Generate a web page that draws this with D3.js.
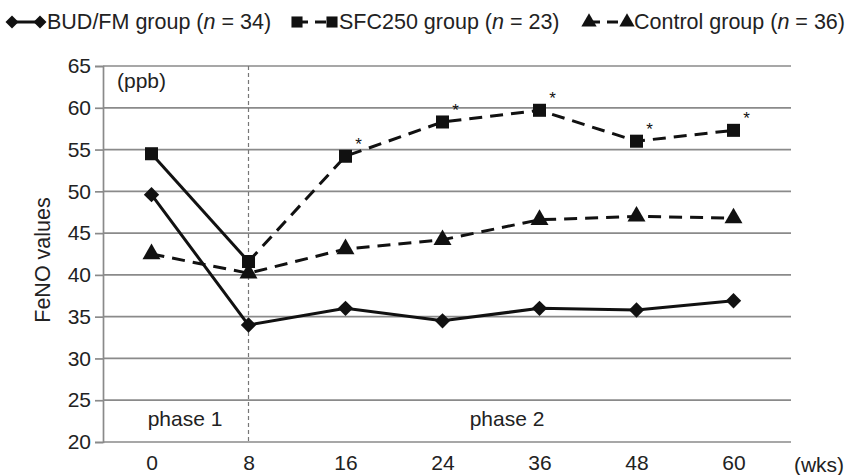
<!DOCTYPE html>
<html><head><meta charset="utf-8">
<script src="https://cdn.jsdelivr.net/npm/d3@7"></script>
<style>body{margin:0;background:#fff}svg{font-family:"Liberation Sans",Arial,sans-serif}</style>
</head><body><svg id="c" width="847" height="475"></svg>
<script>
const weeks = ["0","8","16","24","36","48","60"];
const budfm = [49.6, 34.0, 36.0, 34.5, 36.0, 35.8, 36.9];
const sfc250 = [54.5, 41.6, 54.2, 58.3, 59.7, 56.0, 57.3];
const control = [42.5, 40.2, 43.1, 44.2, 46.6, 47.0, 46.8];
const sfcSignificant = [false, false, true, true, true, true, true];
const yTicks = [20,25,30,35,40,45,50,55,60,65];

const svg = d3.select("#c");
const L = 103, R = 791, T = 66, B = 442;
const FS = 21;
const x = d3.scalePoint().domain(weeks).range([L, L + 7*97]).padding(0.5);
const y = d3.scaleLinear().domain([20,65]).range([B, T]);
const grid = "#8a8a8a";

svg.append("g").selectAll("line").data(yTicks).join("line")
  .attr("x1", L).attr("x2", R).attr("y1", d=>y(d)).attr("y2", d=>y(d))
  .attr("stroke", grid).attr("stroke-width", 1.7);
const ya = svg.append("g").attr("transform", `translate(${L},0)`)
  .call(d3.axisLeft(y).tickValues(yTicks).tickSize(8).tickPadding(4));
ya.select(".domain").attr("stroke", grid).attr("stroke-width", 1.7);
ya.selectAll(".tick line").attr("stroke", grid).attr("stroke-width", 1.7);
ya.selectAll("text").attr("font-size", FS).attr("fill", "#222").attr("font-family", "Liberation Sans, Arial, sans-serif");
const xa = svg.append("g").attr("transform", `translate(0,${B})`)
  .call(d3.axisBottom(x).tickSize(0).tickPadding(13));
xa.select(".domain").remove();
xa.selectAll("text").attr("font-size", FS).attr("fill", "#222").attr("font-family", "Liberation Sans, Arial, sans-serif");
svg.append("text").attr("x", 819).attr("y", B + 30).attr("text-anchor", "middle")
  .attr("font-size", FS).attr("fill", "#222").text("(wks)");

svg.append("line").attr("x1", x("8")).attr("x2", x("8")).attr("y1", T).attr("y2", B)
  .attr("stroke", "#777").attr("stroke-width", 1.2).attr("stroke-dasharray", "4,3");

svg.append("text").attr("transform", "translate(50,260) rotate(-90)").attr("text-anchor", "middle")
  .attr("font-size", 21.5).attr("fill", "#222").text("FeNO values");
svg.append("text").attr("x", 117).attr("y", 88).attr("font-size", FS).attr("fill", "#222").text("(ppb)");
svg.append("text").attr("x", 185).attr("y", 426).attr("text-anchor", "middle")
  .attr("font-size", FS).attr("fill", "#222").text("phase 1");
svg.append("text").attr("x", 507).attr("y", 426).attr("text-anchor", "middle")
  .attr("font-size", FS).attr("fill", "#222").text("phase 2");

const line = d3.line().x((d,i)=>x(weeks[i])).y(d=>y(d));
const seg = (vals, a, b) => vals.map((v,i)=>(i>=a && i<=b) ? v : null);
const lineD = d3.line().defined(d=>d!=null).x((d,i)=>x(weeks[i])).y(d=>y(d));
const dash = "13,8";
const SW = 3;
svg.append("path").attr("d", line(budfm)).attr("fill","none").attr("stroke","#111").attr("stroke-width",SW);
svg.append("path").attr("d", lineD(seg(sfc250,0,1))).attr("fill","none").attr("stroke","#111").attr("stroke-width",SW);
svg.append("path").attr("d", lineD(seg(sfc250,1,6))).attr("fill","none").attr("stroke","#111").attr("stroke-width",SW).attr("stroke-dasharray",dash);
svg.append("path").attr("d", line(control)).attr("fill","none").attr("stroke","#111").attr("stroke-width",SW).attr("stroke-dasharray",dash);

const diamond = d3.symbol().type(d3.symbolDiamond2).size(150)();
const square = d3.symbol().type(d3.symbolSquare).size(170)();
const tri = d3.symbol().type(d3.symbolTriangle).size(140)();

svg.append("g").selectAll("path").data(budfm).join("path")
  .attr("transform",(d,i)=>`translate(${x(weeks[i])},${y(d)})`).attr("d",diamond).attr("fill","#111");
svg.append("g").selectAll("path").data(sfc250).join("path")
  .attr("transform",(d,i)=>`translate(${x(weeks[i])},${y(d)})`).attr("d",square).attr("fill","#111");
svg.append("g").selectAll("path").data(control).join("path")
  .attr("transform",(d,i)=>`translate(${x(weeks[i])},${y(d)})`).attr("d",tri).attr("fill","#111");
svg.append("g").selectAll("text").data(sfc250.map((v,i)=>({v,i})).filter(d=>sfcSignificant[d.i])).join("text")
  .attr("x", d=>x(weeks[d.i])+13).attr("y", d=>y(d.v)-6).attr("text-anchor","middle")
  .attr("font-size", 17).attr("fill","#111").text("*");

const legend = [
  {label:"BUD/FM group", n:"34", sym:diamond, dashed:false, x0:12, w:28},
  {label:"SFC250 group", n:"23", sym:square, dashed:true, x0:297, w:35},
  {label:"Control group", n:"36", sym:tri, dashed:true, x0:589, w:38}
];
const lg = svg.append("g");
legend.forEach(d=>{
  const g = lg.append("g").attr("transform",`translate(${d.x0},22)`);
  g.append("line").attr("x1",0).attr("x2",d.w).attr("y1",0).attr("y2",0).attr("stroke","#111").attr("stroke-width",SW)
    .attr("stroke-dasharray", d.dashed ? "11,7" : null);
  g.append("path").attr("d", d.sym).attr("transform","translate(0,0) scale(0.85)").attr("fill","#111");
  g.append("path").attr("d", d.sym).attr("transform",`translate(${d.w},0) scale(0.85)`).attr("fill","#111");
  const t = g.append("text").attr("x",d.w+7).attr("y",7).attr("font-size",21.5).attr("fill","#222");
  t.append("tspan").text(d.label + " (");
  t.append("tspan").attr("font-style","italic").text("n");
  t.append("tspan").text(" = " + d.n + ")");
});
</script></body></html>
